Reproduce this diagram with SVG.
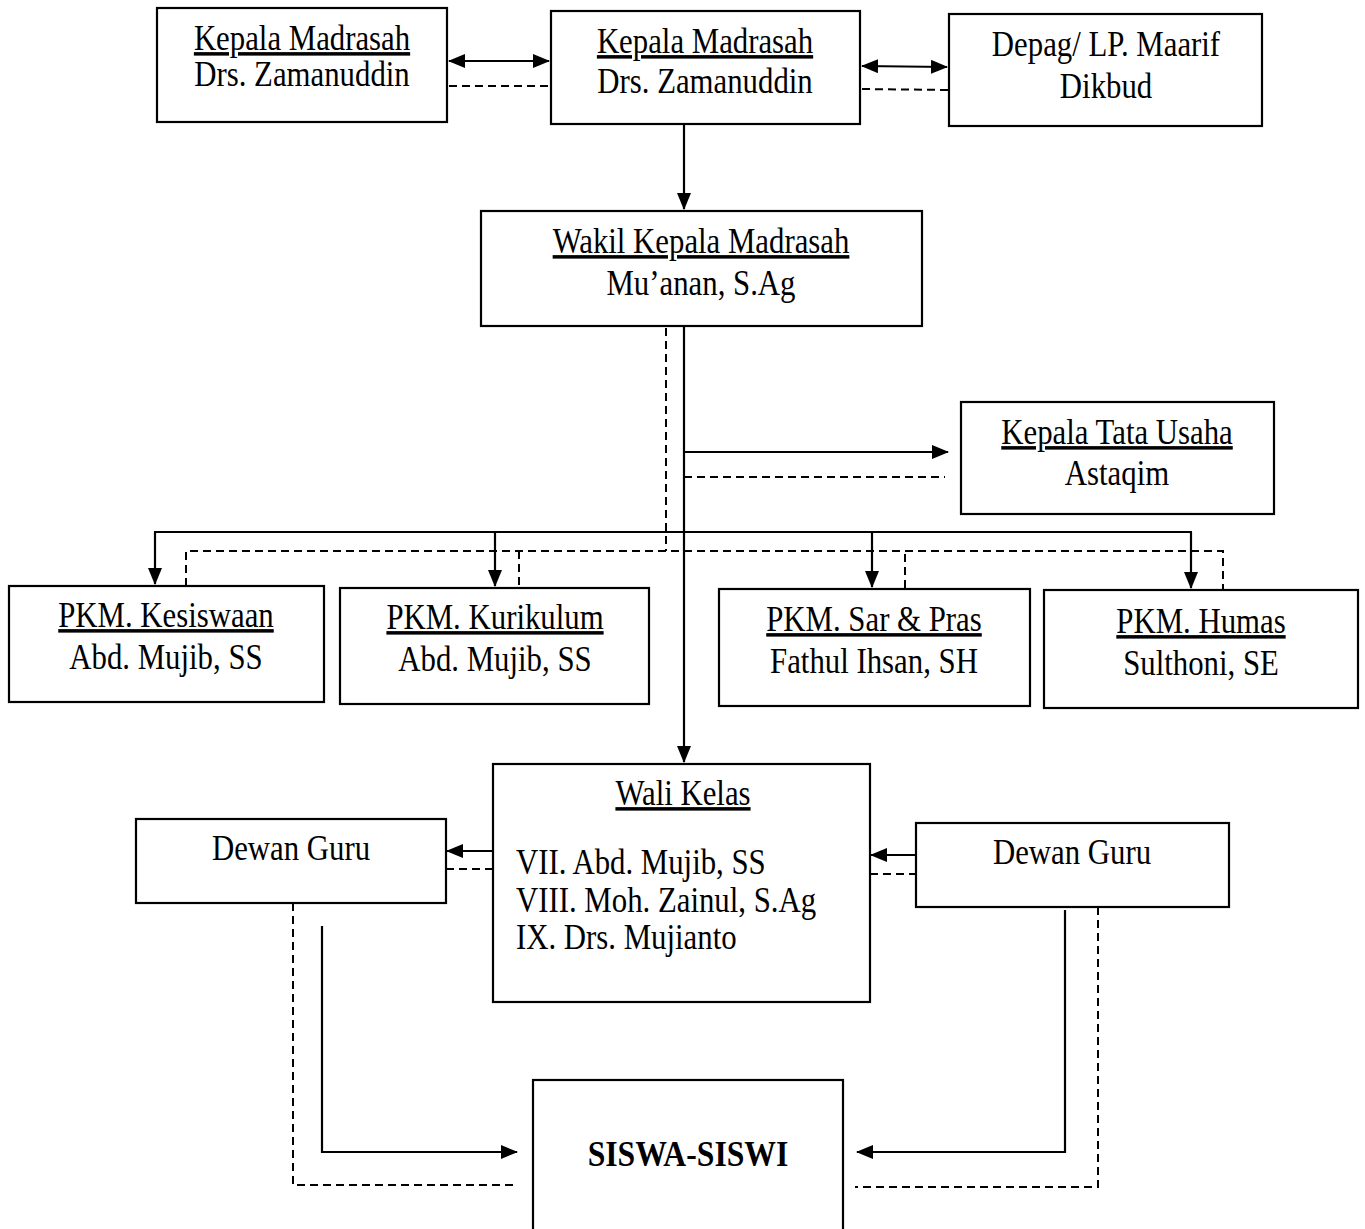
<svg xmlns="http://www.w3.org/2000/svg" width="1365" height="1229" viewBox="0 0 1365 1229">
<style>
.box{fill:#fff;stroke:#000;stroke-width:2.2}
.t{font-family:"Liberation Serif","Times New Roman",serif;font-size:35px;fill:#000;text-anchor:middle;transform-box:fill-box;transform-origin:center;transform:scaleX(0.88)}
.u{text-decoration:underline}
.l{text-anchor:start;transform-origin:left center}
.b{font-weight:bold;font-size:36px}
.c{fill:none;stroke:#000;stroke-width:2.2}
.d{fill:none;stroke:#000;stroke-width:2;stroke-dasharray:8 5}
</style>
<defs>
<marker id="ah" markerUnits="userSpaceOnUse" markerWidth="17" markerHeight="14" refX="16" refY="7" orient="auto-start-reverse">
<path d="M0,0 L17,7 L0,14 z" fill="#000"/>
</marker>
</defs>
<rect width="1365" height="1229" fill="#fff"/>
<g id="connectors">
<line class="c" x1="449" y1="61" x2="549" y2="61" marker-start="url(#ah)" marker-end="url(#ah)"/>
<line class="d" x1="449" y1="86" x2="551" y2="86"/>
<line class="c" x1="862" y1="66" x2="947" y2="67" marker-start="url(#ah)" marker-end="url(#ah)"/>
<line class="d" x1="862" y1="89" x2="949" y2="90"/>
<line class="c" x1="684" y1="124" x2="684" y2="209" marker-end="url(#ah)"/>
<line class="c" x1="684" y1="326" x2="684" y2="762" marker-end="url(#ah)"/>
<line class="d" x1="666" y1="328" x2="666" y2="551"/>
<line class="c" x1="684" y1="452" x2="948" y2="452" marker-end="url(#ah)"/>
<line class="d" x1="684" y1="477" x2="945" y2="477"/>
<line class="c" x1="154" y1="532" x2="1192" y2="532"/>
<line class="c" x1="155" y1="532" x2="155" y2="584" marker-end="url(#ah)"/>
<line class="c" x1="495" y1="532" x2="495" y2="586" marker-end="url(#ah)"/>
<line class="c" x1="872" y1="532" x2="872" y2="587" marker-end="url(#ah)"/>
<line class="c" x1="1191" y1="532" x2="1191" y2="588" marker-end="url(#ah)"/>
<path class="d" d="M186,586 V551 H1223 V590"/>
<line class="d" x1="519" y1="551" x2="519" y2="588"/>
<line class="d" x1="905" y1="554" x2="905" y2="589"/>
<line class="c" x1="493" y1="851" x2="447" y2="851" marker-end="url(#ah)"/>
<line class="d" x1="446" y1="869" x2="493" y2="869"/>
<line class="c" x1="916" y1="855" x2="871" y2="855" marker-end="url(#ah)"/>
<line class="d" x1="870" y1="874" x2="916" y2="874"/>
<path class="c" d="M322,926 V1152 H517" marker-end="url(#ah)"/>
<path class="d" d="M293,903 V1185 H517"/>
<path class="c" d="M1065,910 V1152 H857" marker-end="url(#ah)"/>
<path class="d" d="M1098,907 V1187 H855"/>
</g>
<g id="kepala-madrasah-1">
<rect class="box" x="157" y="8" width="290" height="114"/>
<text class="t u" x="302" y="50">Kepala Madrasah</text>
<text class="t" x="302" y="86">Drs. Zamanuddin</text>
</g>
<g id="kepala-madrasah-2">
<rect class="box" x="551" y="11" width="309" height="113"/>
<text class="t u" x="705" y="53">Kepala Madrasah</text>
<text class="t" x="705" y="93">Drs. Zamanuddin</text>
</g>
<g id="depag">
<rect class="box" x="949" y="14" width="313" height="112"/>
<text class="t" x="1106" y="56">Depag/ LP. Maarif</text>
<text class="t" x="1106" y="98">Dikbud</text>
</g>
<g id="wakil">
<rect class="box" x="481" y="211" width="441" height="115"/>
<text class="t u" x="701" y="253">Wakil Kepala Madrasah</text>
<text class="t" x="701" y="295">Mu’anan, S.Ag</text>
</g>
<g id="kepala-tu">
<rect class="box" x="961" y="402" width="313" height="112"/>
<text class="t u" x="1117" y="444">Kepala Tata Usaha</text>
<text class="t" x="1117" y="485">Astaqim</text>
</g>
<g id="pkm-kesiswaan">
<rect class="box" x="9" y="586" width="315" height="116"/>
<text class="t u" x="166" y="627">PKM. Kesiswaan</text>
<text class="t" x="166" y="669">Abd. Mujib, SS</text>
</g>
<g id="pkm-kurikulum">
<rect class="box" x="340" y="588" width="309" height="116"/>
<text class="t u" x="495" y="629">PKM. Kurikulum</text>
<text class="t" x="495" y="671">Abd. Mujib, SS</text>
</g>
<g id="pkm-sarpras">
<rect class="box" x="719" y="589" width="311" height="117"/>
<text class="t u" x="874" y="631">PKM. Sar &amp; Pras</text>
<text class="t" x="874" y="673">Fathul Ihsan, SH</text>
</g>
<g id="pkm-humas">
<rect class="box" x="1044" y="590" width="314" height="118"/>
<text class="t u" x="1201" y="633">PKM. Humas</text>
<text class="t" x="1201" y="675">Sulthoni, SE</text>
</g>
<g id="wali-kelas">
<rect class="box" x="493" y="764" width="377" height="238"/>
<text class="t u" x="683" y="805">Wali Kelas</text>
<text class="t l" x="516" y="874">VII. Abd. Mujib, SS</text>
<text class="t l" x="516" y="912">VIII. Moh. Zainul, S.Ag</text>
<text class="t l" x="516" y="949">IX. Drs. Mujianto</text>
</g>
<g id="dewan-guru-kiri">
<rect class="box" x="136" y="819" width="310" height="84"/>
<text class="t" x="291" y="860">Dewan Guru</text>
</g>
<g id="dewan-guru-kanan">
<rect class="box" x="916" y="823" width="313" height="84"/>
<text class="t" x="1072" y="864">Dewan Guru</text>
</g>
<g id="siswa">
<rect class="box" x="533" y="1080" width="310" height="170"/>
<text class="t b" x="688" y="1166">SISWA-SISWI</text>
</g>
</svg>
